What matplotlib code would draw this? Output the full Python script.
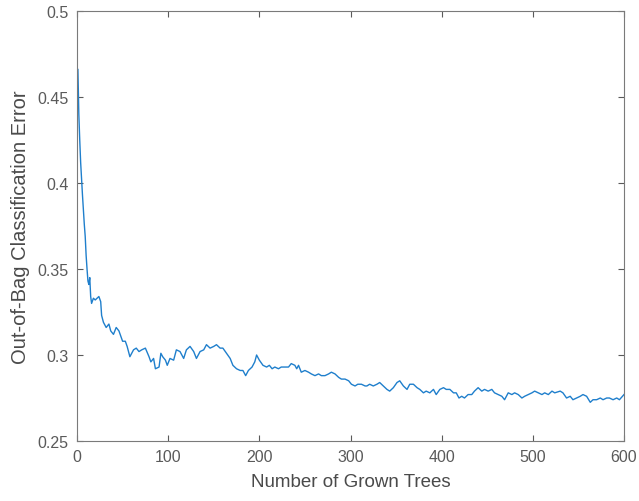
import matplotlib
matplotlib.use('Agg')
import matplotlib.pyplot as plt

plt.rcParams['font.family'] = ['Liberation Sans', 'DejaVu Sans']

# number of grown trees and out-of-bag error
trees = [1, 2, 3, 4, 5, 6, 7, 8, 9, 10, 11, 12, 13, 14, 15, 16, 18, 20, 22, 24,
         26, 27, 29, 32, 35, 37, 40, 43, 46, 48, 50, 53, 55, 58, 62, 65, 68, 71, 75, 79,
         81, 84, 86, 90, 92, 94, 97, 99, 102, 106, 109, 113, 117, 120, 124, 128, 131, 135, 139, 142,
         146, 150, 153, 157, 160, 164, 168, 171, 175, 179, 182, 185, 188, 192, 195, 197, 200, 204, 208, 211,
         214, 217, 221, 224, 228, 232, 235, 239, 241, 243, 246, 250, 254, 257, 261, 265, 268, 272, 276, 279,
         283, 287, 290, 294, 298, 301, 305, 308, 312, 316, 318, 321, 325, 329, 332, 336, 340, 343, 347, 351,
         354, 358, 362, 365, 369, 373, 376, 380, 383, 387, 391, 394, 398, 402, 405, 409, 413, 416, 419, 422,
         425, 429, 433, 436, 440, 444, 447, 451, 455, 458, 462, 466, 469, 473, 477, 480, 484, 488, 491, 495,
         499, 502, 506, 510, 513, 517, 521, 524, 530, 533, 537, 541, 544, 548, 552, 555, 559, 563, 566, 570,
         574, 577, 581, 584, 588, 592, 595, 600]
oob_error = [0.466, 0.440, 0.425, 0.412, 0.402, 0.393, 0.384, 0.376, 0.369, 0.358, 0.350, 0.343, 0.341, 0.345, 0.334, 0.330, 0.333, 0.332, 0.333, 0.334,
             0.331, 0.323, 0.319, 0.316, 0.318, 0.314, 0.312, 0.316, 0.314, 0.311, 0.308, 0.308, 0.305, 0.299, 0.303, 0.304, 0.302, 0.303, 0.304, 0.299,
             0.296, 0.298, 0.292, 0.293, 0.301, 0.299, 0.297, 0.294, 0.298, 0.297, 0.303, 0.302, 0.298, 0.303, 0.305, 0.302, 0.298, 0.302, 0.303, 0.306,
             0.304, 0.305, 0.306, 0.304, 0.304, 0.301, 0.298, 0.294, 0.292, 0.291, 0.291, 0.288, 0.291, 0.293, 0.296, 0.300, 0.297, 0.294, 0.293, 0.294,
             0.292, 0.293, 0.292, 0.293, 0.293, 0.293, 0.295, 0.294, 0.292, 0.294, 0.290, 0.291, 0.290, 0.289, 0.288, 0.289, 0.288, 0.288, 0.289, 0.290,
             0.289, 0.287, 0.286, 0.286, 0.285, 0.283, 0.282, 0.283, 0.283, 0.282, 0.282, 0.283, 0.282, 0.283, 0.284, 0.282, 0.280, 0.279, 0.281, 0.284,
             0.285, 0.282, 0.280, 0.283, 0.283, 0.281, 0.280, 0.278, 0.279, 0.278, 0.280, 0.277, 0.280, 0.281, 0.280, 0.280, 0.278, 0.278, 0.275, 0.276,
             0.275, 0.277, 0.277, 0.279, 0.281, 0.279, 0.280, 0.279, 0.280, 0.278, 0.277, 0.276, 0.274, 0.278, 0.277, 0.278, 0.277, 0.275, 0.276, 0.277,
             0.278, 0.279, 0.278, 0.277, 0.278, 0.277, 0.279, 0.278, 0.279, 0.278, 0.275, 0.276, 0.274, 0.275, 0.276, 0.277, 0.276, 0.2725, 0.274, 0.274,
             0.275, 0.274, 0.275, 0.275, 0.274, 0.275, 0.274, 0.277]

x_ticks = [0, 100, 200, 300, 400, 500, 600]
y_ticks = [0.25, 0.3, 0.35, 0.4, 0.45, 0.5]
y_tick_labels = ['0.25', '0.3', '0.35', '0.4', '0.45', '0.5']

fig = plt.figure(figsize=(6.39, 5.02), dpi=100)
ax = fig.add_axes([77 / 639, 60 / 502, 547 / 639, 430 / 502])

ax.plot(trees, oob_error, color='#1f7fcc', linewidth=1.0)

ax.set_xlim(0, 600)
ax.set_ylim(0.25, 0.5)
ax.set_xticks(x_ticks)
ax.set_yticks(y_ticks)
ax.set_yticklabels(y_tick_labels)

gray = '#5a5a5a'
for s in ax.spines.values():
    s.set_color('#7a7a7a')
    s.set_linewidth(0.8)
ax.tick_params(direction='in', length=4, width=0.8, colors='#5a5a5a',
               top=True, right=True, labelsize=11.5, pad=6)
ax.tick_params(axis='both', labelcolor=gray)

ax.set_xlabel('Number of Grown Trees', fontsize=13.5, color='#4a4a4a', labelpad=6)
ax.set_ylabel('Out-of-Bag Classification Error', fontsize=14.5, color='#4a4a4a', labelpad=5)

fig.savefig('out.png', dpi=100)
